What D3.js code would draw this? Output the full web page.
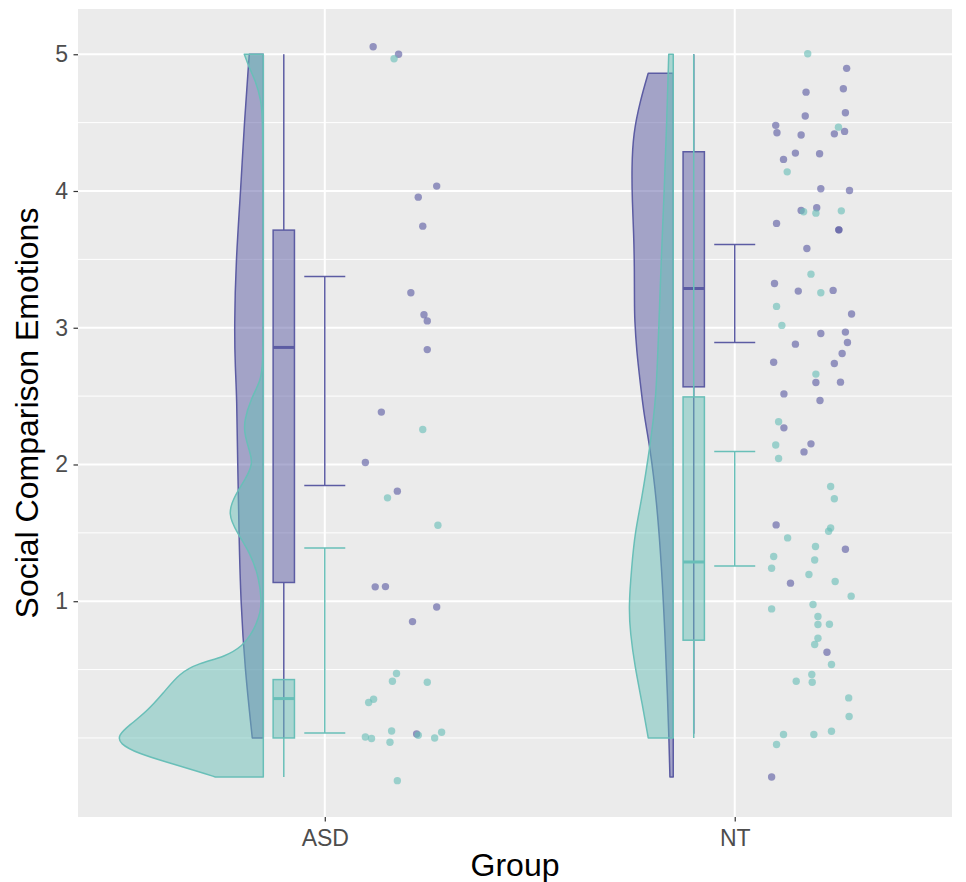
<!DOCTYPE html>
<html>
<head>
<meta charset="utf-8">
<script src="https://cdn.jsdelivr.net/npm/d3@7"></script>
<style>
  body { margin: 0; background: #ffffff; }
  text { font-family: "Liberation Sans", Arial, sans-serif; }
</style>
</head>
<body>
<div id="d3-container"></div>
<script>
/* DATA */
const groups = ["ASD", "NT"];
const yTicks = [1, 2, 3, 4, 5];
const yMinor = [0, 0.5, 1.5, 2.5, 3.5, 4.5];

// half violins: [value, density]
const violinASDPurple = [[0, 0.11], [0.5, 0.183], [1, 0.226], [1.5, 0.243], [2, 0.256], [2.5, 0.265],
  [2.7, 0.28], [3, 0.29], [3.5, 0.273], [4, 0.226], [4.5, 0.19], [5, 0.14]];
const violinASDTeal = [[-0.285, 0.48], [-0.249, 0.63], [-0.176, 0.97], [-0.114, 1.25], [-0.041, 1.44],
  [0.02, 1.45], [0.093, 1.34], [0.19, 1.17], [0.327, 1.0], [0.473, 0.84], [0.546, 0.65], [0.593, 0.38],
  [0.678, 0.2], [0.75, 0.13], [0.83, 0.07], [0.92, 0.03], [1.0, 0.016], [1.18, 0.045], [1.35, 0.13],
  [1.5, 0.26], [1.64, 0.36], [1.78, 0.28], [1.89, 0.18], [2.01, 0.1], [2.1, 0.14], [2.23, 0.19],
  [2.32, 0.19], [2.47, 0.13], [2.62, 0.02], [2.75, 0.004], [3, 0.002], [3.5, 0.002], [4, 0.002],
  [4.52, 0.005], [4.66, 0.02], [4.81, 0.08], [4.9, 0.14], [5, 0.19]];
const violinNTPurple = [[-0.285, 0.033], [0, 0.043], [0.275, 0.056], [0.77, 0.083], [1.25, 0.116],
  [1.74, 0.166], [2.13, 0.233], [2.35, 0.29], [2.6, 0.33], [2.83, 0.366], [3.06, 0.386], [3.2, 0.388],
  [3.45, 0.388], [3.69, 0.395], [3.93, 0.41], [4.17, 0.415], [4.42, 0.4], [4.66, 0.33], [4.862, 0.25]];
const violinNTTeal = [[0, 0.25], [0.275, 0.316], [0.52, 0.383], [0.77, 0.43], [0.96, 0.445],
  [1.25, 0.416], [1.5, 0.383], [1.74, 0.316], [2.13, 0.233], [2.48, 0.17], [3, 0.145], [3.5, 0.12],
  [4, 0.09], [4.5, 0.065], [5, 0.045]];

// boxplots: [lower whisker, q1, median, q3, upper whisker]
const boxASDPurple = [0, 1.137, 2.856, 3.714, 5];
const boxASDTeal = [-0.285, 0, 0.288, 0.427, 0.427];
const boxNTPurple = [0.03, 2.568, 3.287, 4.287, 5];
const boxNTTeal = [0, 0.715, 1.287, 2.494, 5];

// error bars: [low, high]
const errASDPurple = [1.846, 3.375];
const errASDTeal = [0.037, 1.39];
const errNTPurple = [2.892, 3.609];
const errNTTeal = [1.258, 2.095];

// jittered points: [offset from group, value]
const ptsASDPurple = [[0.118, 5.055], [0.18, 5.0], [0.273, 4.036], [0.228, 3.955], [0.239, 3.743],
  [0.21, 3.256], [0.242, 3.095], [0.25, 3.05], [0.25, 2.84], [0.138, 2.383], [0.099, 2.015],
  [0.177, 1.805], [0.123, 1.105], [0.148, 1.107], [0.273, 0.958], [0.214, 0.851], [0.224, 0.029]];
const ptsASDTeal = [[0.169, 4.967], [0.239, 2.256], [0.153, 1.756], [0.276, 1.556], [0.175, 0.471],
  [0.165, 0.415], [0.25, 0.407], [0.119, 0.283], [0.107, 0.259], [0.163, 0.051], [0.099, 0.007],
  [0.114, -0.004], [0.159, -0.031], [0.228, 0.02], [0.268, 0.0], [0.285, 0.042], [0.177, -0.312]];
const ptsNTPurple = [[0.273, 4.897], [0.174, 4.723], [0.265, 4.748], [0.172, 4.548], [0.27, 4.572],
  [0.1, 4.48], [0.103, 4.426], [0.162, 4.409], [0.243, 4.418], [0.268, 4.436], [0.148, 4.277],
  [0.207, 4.272], [0.119, 4.231], [0.21, 4.016], [0.28, 4.004], [0.162, 3.858], [0.2, 3.877],
  [0.102, 3.763], [0.254, 3.716], [0.254, 3.716], [0.176, 3.58], [0.097, 3.324], [0.155, 3.268],
  [0.24, 3.273], [0.285, 3.1], [0.21, 2.958], [0.27, 2.968], [0.148, 2.88], [0.275, 2.892],
  [0.262, 2.812], [0.095, 2.748], [0.243, 2.739], [0.198, 2.6], [0.258, 2.602], [0.12, 2.516],
  [0.208, 2.468], [0.12, 2.268], [0.186, 2.151], [0.169, 2.092], [0.101, 1.558], [0.27, 1.38],
  [0.136, 1.132], [0.225, 0.627], [0.09, -0.285]];
const ptsNTTeal = [[0.178, 5.004], [0.253, 4.467], [0.128, 4.14], [0.168, 3.848], [0.198, 3.838],
  [0.26, 3.855], [0.186, 3.392], [0.21, 3.256], [0.102, 3.156], [0.115, 3.017], [0.198, 2.661],
  [0.107, 2.312], [0.1, 2.143], [0.107, 2.044], [0.234, 1.839], [0.243, 1.749], [0.234, 1.536],
  [0.229, 1.512], [0.129, 1.463], [0.197, 1.4], [0.095, 1.327], [0.195, 1.302], [0.09, 1.241],
  [0.181, 1.195], [0.245, 1.144], [0.284, 1.037], [0.09, 0.944], [0.191, 0.976], [0.203, 0.888],
  [0.203, 0.83], [0.231, 0.832], [0.203, 0.729], [0.195, 0.683], [0.236, 0.537], [0.188, 0.464],
  [0.15, 0.415], [0.189, 0.407], [0.278, 0.293], [0.279, 0.157], [0.119, 0.025], [0.193, 0.025],
  [0.236, 0.049], [0.102, -0.048]];

/* CONSTANTS */
const width = 966, height = 882;
const panel = { left: 78, right: 952, top: 9, bottom: 817 };
const purple = "#5C5CA3", teal = "#69BFB8";

// positions inside each group, in group units
const violinEdge = -0.15, boxPos = -0.1, boxHalf = 0.026, capHalf = 0.05;

// two series per group, purple drawn first
const layers = [
  { g: 1, color: purple, violin: violinASDPurple, box: boxASDPurple, err: errASDPurple, pts: ptsASDPurple },
  { g: 2, color: purple, violin: violinNTPurple, box: boxNTPurple, err: errNTPurple, pts: ptsNTPurple },
  { g: 1, color: teal, violin: violinASDTeal, box: boxASDTeal, err: errASDTeal, pts: ptsASDTeal },
  { g: 2, color: teal, violin: violinNTTeal, box: boxNTTeal, err: errNTTeal, pts: ptsNTTeal }
];

/* SCALES */
const xScale = d3.scaleLinear().domain([0.398, 2.53]).range([panel.left, panel.right]);
const yScale = d3.scaleLinear().domain([-0.578, 5.331]).range([panel.bottom, panel.top]);
const wScale = d3.scaleLinear().domain([0, 1]).range([0, 0.244]); // density -> half width

/* SVG */
const svg = d3.select("#d3-container")
  .append("svg")
  .attr("width", width)
  .attr("height", height);

// panel + grid
svg.append("rect")
  .attr("x", panel.left).attr("y", panel.top)
  .attr("width", panel.right - panel.left)
  .attr("height", panel.bottom - panel.top)
  .attr("fill", "#EBEBEB");

svg.selectAll("line.minor")
  .data(yMinor)
  .join("line")
  .attr("class", "minor")
  .attr("x1", panel.left).attr("x2", panel.right)
  .attr("y1", d => yScale(d)).attr("y2", d => yScale(d))
  .attr("stroke", "#ffffff").attr("stroke-width", 1);

svg.selectAll("line.major")
  .data(yTicks)
  .join("line")
  .attr("class", "major")
  .attr("x1", panel.left).attr("x2", panel.right)
  .attr("y1", d => yScale(d)).attr("y2", d => yScale(d))
  .attr("stroke", "#ffffff").attr("stroke-width", 2);

svg.selectAll("line.vmajor")
  .data([1, 2])
  .join("line")
  .attr("class", "vmajor")
  .attr("x1", d => xScale(d)).attr("x2", d => xScale(d))
  .attr("y1", panel.top).attr("y2", panel.bottom)
  .attr("stroke", "#ffffff").attr("stroke-width", 2);

/* VIOLINS */
const violinPath = (l) => d3.area()
  .y(d => yScale(d[0]))
  .x0(xScale(l.g + violinEdge))
  .x1(d => xScale(l.g + violinEdge - wScale(d[1])))
  .curve(d3.curveBasis)(l.violin);

svg.selectAll("path.violin")
  .data(layers)
  .join("path")
  .attr("class", "violin")
  .attr("d", violinPath)
  .attr("fill", d => d.color)
  .attr("fill-opacity", 0.5)
  .attr("stroke", d => d.color)
  .attr("stroke-width", 1.5)
  .attr("stroke-linejoin", "round");

/* BOXPLOTS */
const boxes = svg.selectAll("g.box")
  .data(layers)
  .join("g")
  .attr("class", "box");

boxes.selectAll("line.whisker")
  .data(d => [[d, d.box[0], d.box[1]], [d, d.box[3], d.box[4]]])
  .join("line")
  .attr("class", "whisker")
  .attr("x1", d => xScale(d[0].g + boxPos)).attr("x2", d => xScale(d[0].g + boxPos))
  .attr("y1", d => yScale(d[1])).attr("y2", d => yScale(d[2]))
  .attr("stroke", d => d[0].color)
  .attr("stroke-width", 1.5);

boxes.append("rect")
  .attr("x", d => xScale(d.g + boxPos - boxHalf))
  .attr("width", d => xScale(d.g + boxPos + boxHalf) - xScale(d.g + boxPos - boxHalf))
  .attr("y", d => yScale(d.box[3]))
  .attr("height", d => yScale(d.box[1]) - yScale(d.box[3]))
  .attr("fill", d => d.color)
  .attr("fill-opacity", 0.5)
  .attr("stroke", d => d.color)
  .attr("stroke-width", 1.5);

boxes.append("line")
  .attr("x1", d => xScale(d.g + boxPos - boxHalf))
  .attr("x2", d => xScale(d.g + boxPos + boxHalf))
  .attr("y1", d => yScale(d.box[2])).attr("y2", d => yScale(d.box[2]))
  .attr("stroke", d => d.color)
  .attr("stroke-width", 3);

/* ERROR BARS */
const errs = svg.selectAll("g.err")
  .data(layers)
  .join("g")
  .attr("class", "err")
  .attr("stroke", d => d.color)
  .attr("stroke-width", 1.5);

errs.append("line")
  .attr("x1", d => xScale(d.g)).attr("x2", d => xScale(d.g))
  .attr("y1", d => yScale(d.err[0])).attr("y2", d => yScale(d.err[1]));

errs.selectAll("line.cap")
  .data(d => d.err.map(v => ({ g: d.g, v: v })))
  .join("line")
  .attr("class", "cap")
  .attr("x1", d => xScale(d.g - capHalf)).attr("x2", d => xScale(d.g + capHalf))
  .attr("y1", d => yScale(d.v)).attr("y2", d => yScale(d.v));

/* POINTS */
svg.selectAll("g.pts")
  .data(layers)
  .join("g")
  .attr("class", "pts")
  .attr("fill", d => d.color)
  .selectAll("circle")
  .data(d => d.pts.map(p => ({ g: d.g, dx: p[0], v: p[1] })))
  .join("circle")
  .attr("cx", d => xScale(d.g + d.dx))
  .attr("cy", d => yScale(d.v))
  .attr("r", 3.7)
  .attr("fill-opacity", 0.62);

/* AXES */
const yAxis = d3.axisLeft(yScale).tickValues(yTicks).tickFormat(d3.format("d"))
  .tickSize(4.5).tickPadding(5.5);
const yAxisGroup = svg.append("g")
  .attr("transform", `translate(${panel.left}, 0)`)
  .call(yAxis);

const xAxis = d3.axisBottom(xScale).tickValues([1, 2]).tickFormat((d, i) => groups[i])
  .tickSize(4.5).tickPadding(8);
const xAxisGroup = svg.append("g")
  .attr("transform", `translate(0, ${panel.bottom})`)
  .call(xAxis);

[xAxisGroup, yAxisGroup].forEach(g => {
  g.select(".domain").remove();
  g.selectAll(".tick line").attr("stroke", "#333333").attr("stroke-width", 1.2);
  g.selectAll(".tick text")
    .attr("fill", "#4D4D4D")
    .attr("font-size", 23)
    .attr("font-family", "'Liberation Sans', Arial, sans-serif");
});

svg.append("text")
  .attr("x", (panel.left + panel.right) / 2)
  .attr("y", 876)
  .attr("text-anchor", "middle")
  .attr("font-size", 32)
  .attr("fill", "#000000")
  .text("Group");

svg.append("text")
  .attr("transform", `translate(38, ${(panel.top + panel.bottom) / 2}) rotate(-90)`)
  .attr("text-anchor", "middle")
  .attr("font-size", 32)
  .attr("fill", "#000000")
  .text("Social Comparison Emotions");
</script>
</body>
</html>
